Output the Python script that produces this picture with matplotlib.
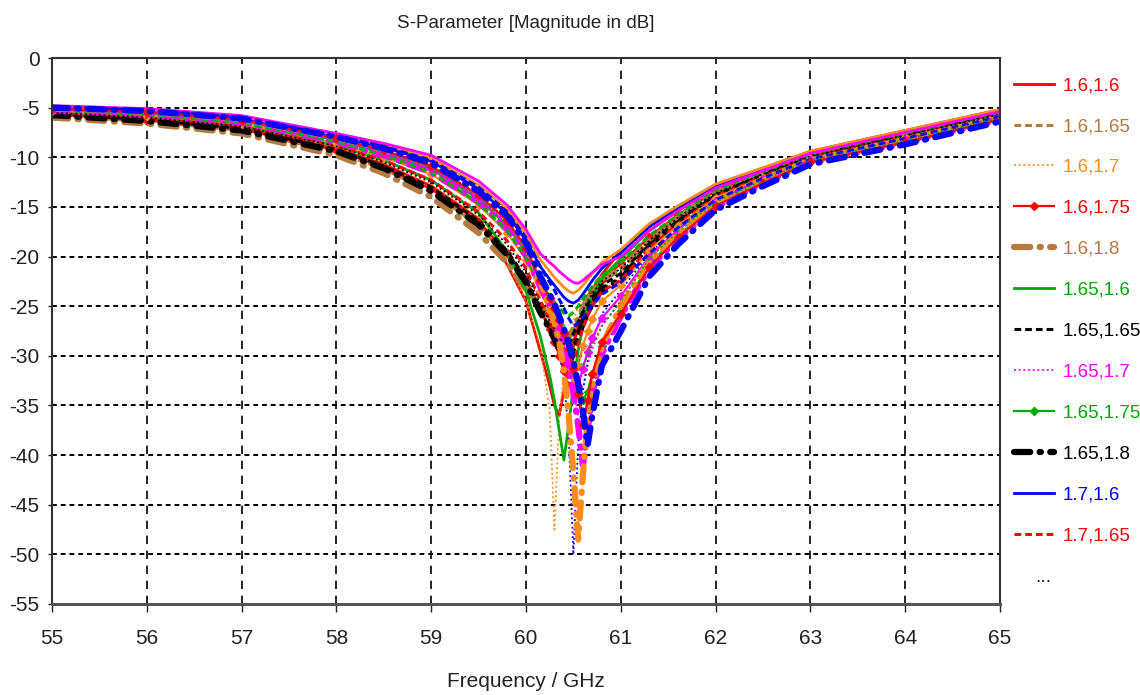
import matplotlib
matplotlib.use("Agg")
import matplotlib.pyplot as plt

plt.rcParams["font.family"] = ["Liberation Sans", "DejaVu Sans"]
plt.rcParams["axes.unicode_minus"] = False

# frequency grid (GHz) shared by all traces
freq = [55, 56, 57, 58, 58.5, 59, 59.5, 59.8, 60.0,
        60.15, 60.25, 60.3, 60.35, 60.4, 60.45, 60.5, 60.55, 60.6, 60.65, 60.7, 60.8,
        61.0, 61.3, 61.6, 62, 62.5, 63, 64, 65]

# S11 magnitude in dB, one list per parameter pair
s_16_16 = [-5.6, -6.1, -7.0, -9.1, -10.7, -12.9, -16.2, -20.8, -24.5, -29.5, -33.0, -35.0, -36.0, -33.5, -31.5, -29.0, -27.0, -25.5, -24.3, -23.3, -21.8, -19.4, -16.9, -15.0, -12.8, -11.1, -9.4, -7.3, -5.2]
s_16_165 = [-5.8, -6.4, -7.3, -9.5, -11.2, -13.5, -16.9, -19.9, -22.6, -25.0, -26.5, -27.2, -28.0, -28.6, -29.0, -28.0, -26.8, -25.6, -24.6, -23.8, -22.6, -21.0, -18.2, -16.0, -13.5, -11.6, -9.8, -7.7, -5.6]
s_16_17 = [-5.5, -6.0, -6.9, -9.0, -10.5, -12.7, -16.0, -20.5, -24.5, -29.0, -35.5, -47.5, -36.5, -31.5, -28.5, -26.5, -25.0, -23.9, -23.0, -22.3, -21.2, -19.8, -17.3, -15.3, -13.0, -11.3, -9.6, -7.5, -5.35]
s_16_175 = [-5.7, -6.3, -7.2, -9.3, -11.0, -13.2, -16.5, -19.6, -22.3, -25.3, -27.3, -28.6, -30.0, -31.5, -30.5, -28.6, -27.0, -25.7, -24.6, -23.7, -22.4, -20.7, -18.0, -15.8, -13.4, -11.5, -9.7, -7.6, -5.55]
s_16_18 = [-6.0, -6.6, -7.6, -9.8, -11.6, -14.0, -17.6, -20.6, -23.3, -25.0, -26.0, -26.6, -27.2, -27.6, -28.0, -27.4, -26.3, -25.2, -24.2, -23.4, -22.2, -21.3, -18.4, -16.1, -13.6, -11.7, -9.9, -7.8, -5.65]
s_165_16 = [-5.45, -5.9, -6.8, -8.8, -10.3, -12.3, -15.6, -19.5, -23.5, -28.0, -32.0, -34.5, -37.5, -40.5, -37.0, -33.0, -29.5, -27.0, -25.3, -24.0, -22.2, -20.2, -17.4, -15.4, -13.0, -11.3, -9.6, -7.5, -5.35]
s_165_165 = [-5.6, -6.2, -7.1, -9.2, -10.9, -13.0, -16.4, -19.4, -22.2, -25.4, -27.2, -28.3, -29.3, -30.0, -29.0, -27.8, -26.6, -25.6, -24.8, -24.1, -22.9, -21.7, -18.7, -16.4, -13.8, -11.8, -10.0, -7.9, -5.7]
s_165_17 = [-5.15, -5.5, -6.3, -8.2, -9.5, -11.0, -14.0, -16.6, -19.3, -22.6, -24.6, -25.8, -27.2, -28.8, -30.8, -33.3, -36.0, -33.5, -31.0, -29.3, -27.0, -24.5, -20.2, -17.5, -14.5, -12.3, -10.3, -8.3, -6.0]
s_165_175 = [-5.2, -5.6, -6.35, -8.3, -9.6, -11.2, -14.2, -16.9, -19.6, -22.8, -24.6, -25.6, -26.8, -28.0, -29.5, -31.2, -33.0, -34.5, -33.6, -31.8, -29.0, -25.5, -20.8, -17.9, -14.8, -12.5, -10.4, -8.4, -6.1]
s_165_18 = [-5.75, -6.35, -7.3, -9.4, -11.1, -13.4, -16.8, -19.8, -22.6, -25.6, -27.3, -28.3, -29.3, -30.4, -31.0, -29.6, -28.0, -26.7, -25.6, -24.7, -23.3, -22.3, -19.0, -16.7, -14.0, -11.9, -10.0, -7.95, -5.75]
s_17_16 = [-4.95, -5.3, -6.05, -7.9, -9.0, -10.4, -13.2, -15.7, -18.4, -21.0, -22.3, -22.9, -23.5, -24.1, -24.5, -24.7, -24.4, -23.8, -23.1, -22.4, -21.2, -19.6, -17.0, -15.1, -12.9, -11.2, -9.5, -7.4, -5.3]
s_17_165 = [-5.45, -5.95, -6.8, -8.8, -10.3, -12.3, -15.5, -18.4, -21.2, -24.4, -26.4, -27.6, -29.0, -30.8, -33.0, -31.0, -28.8, -27.2, -26.0, -25.0, -23.5, -22.4, -19.1, -16.7, -14.0, -11.9, -10.0, -7.95, -5.75]
s_17_17 = [-5.1, -5.45, -6.2, -8.1, -9.3, -10.8, -13.7, -16.3, -19.0, -23.0, -25.5, -27.2, -29.5, -32.5, -38.0, -50.0, -39.0, -33.5, -30.5, -28.5, -25.8, -23.4, -19.7, -17.1, -14.3, -12.1, -10.2, -8.1, -5.9]
s_17_175 = [-5.35, -5.8, -6.6, -8.6, -10.0, -11.7, -14.8, -17.6, -20.3, -23.5, -25.5, -26.6, -27.9, -29.4, -31.0, -33.0, -31.0, -29.0, -27.5, -26.3, -24.5, -22.9, -19.4, -16.9, -14.1, -12.0, -10.1, -8.0, -5.8]
s_17_18 = [-5.25, -5.7, -6.5, -8.45, -9.8, -11.5, -14.5, -17.2, -19.9, -23.0, -25.0, -26.2, -27.6, -29.2, -31.2, -33.8, -37.0, -41.0, -37.5, -33.8, -29.8, -26.0, -21.2, -18.2, -15.0, -12.6, -10.5, -8.5, -6.2]
s_175_16 = [-4.9, -5.2, -5.9, -7.75, -8.8, -10.1, -12.8, -15.2, -17.8, -20.3, -21.5, -22.1, -22.6, -23.1, -23.5, -23.7, -23.4, -22.9, -22.3, -21.7, -20.6, -19.3, -16.7, -14.9, -12.7, -11.05, -9.4, -7.3, -5.2]
s_175_165 = [-5.25, -5.7, -6.5, -8.45, -9.8, -11.5, -14.6, -17.4, -20.1, -22.7, -24.0, -24.6, -25.2, -25.7, -26.0, -25.6, -25.0, -24.3, -23.6, -23.0, -21.9, -20.6, -17.9, -15.8, -13.3, -11.5, -9.7, -7.6, -5.5]
s_175_17 = [-5.5, -6.0, -6.9, -8.9, -10.5, -12.5, -15.8, -18.8, -21.6, -24.8, -26.5, -27.3, -28.1, -28.8, -28.6, -27.6, -26.5, -25.4, -24.5, -23.7, -22.5, -21.2, -18.4, -16.1, -13.6, -11.7, -9.9, -7.8, -5.65]
s_175_175 = [-5.15, -5.55, -6.3, -8.2, -9.5, -11.1, -14.1, -16.8, -19.5, -22.6, -24.4, -25.4, -26.6, -27.9, -29.5, -31.2, -33.0, -31.3, -29.6, -28.2, -26.2, -24.0, -20.0, -17.3, -14.4, -12.2, -10.3, -8.2, -5.95]
s_175_18 = [-5.05, -5.4, -6.15, -8.0, -9.2, -10.7, -13.5, -16.1, -18.8, -22.5, -25.0, -26.6, -28.6, -31.5, -36.0, -41.8, -48.5, -42.0, -36.5, -33.0, -29.0, -25.0, -20.5, -17.7, -14.6, -12.4, -10.4, -8.35, -6.05]
s_18_16 = [-4.8, -5.1, -5.8, -7.6, -8.6, -9.8, -12.4, -14.8, -17.3, -19.7, -20.6, -21.0, -21.5, -21.9, -22.3, -22.6, -22.7, -22.4, -22.0, -21.6, -20.8, -20.0, -17.4, -15.4, -13.1, -11.35, -9.6, -7.5, -5.4]
s_18_165 = [-4.95, -5.25, -6.0, -7.85, -8.9, -10.3, -13.0, -15.5, -18.1, -21.0, -22.6, -23.4, -24.3, -25.2, -26.2, -27.0, -26.7, -26.1, -25.5, -24.9, -23.8, -22.6, -19.7, -17.1, -14.3, -12.1, -10.2, -8.1, -5.9]
s_18_17 = [-5.15, -5.55, -6.3, -8.2, -9.5, -11.1, -14.1, -16.8, -19.5, -22.5, -24.0, -24.9, -25.8, -26.8, -27.9, -29.0, -30.2, -31.0, -30.0, -28.8, -27.0, -24.5, -20.2, -17.5, -14.5, -12.3, -10.3, -8.3, -6.0]
s_18_175 = [-5.1, -5.45, -6.2, -8.1, -9.3, -10.9, -13.8, -16.4, -19.1, -22.4, -24.2, -25.2, -26.4, -27.7, -29.3, -31.3, -33.8, -37.0, -34.5, -31.8, -28.6, -25.8, -21.1, -18.1, -14.9, -12.6, -10.5, -8.5, -6.2]
s_18_18 = [-5.0, -5.35, -6.1, -7.95, -9.1, -10.6, -13.4, -15.9, -18.6, -22.0, -23.8, -24.8, -26.0, -27.3, -28.8, -30.6, -32.8, -35.5, -39.0, -36.0, -31.0, -27.5, -22.0, -18.8, -15.3, -12.9, -10.7, -8.7, -6.4]

traces = [s_16_16, s_16_165, s_16_17, s_16_175, s_16_18,
          s_165_16, s_165_165, s_165_17, s_165_175, s_165_18,
          s_17_16, s_17_165, s_17_17, s_17_175, s_17_18,
          s_175_16, s_175_165, s_175_17, s_175_175, s_175_18,
          s_18_16, s_18_165, s_18_17, s_18_175, s_18_18]
labels = ["1.6,1.6", "1.6,1.65", "1.6,1.7", "1.6,1.75", "1.6,1.8",
          "1.65,1.6", "1.65,1.65", "1.65,1.7", "1.65,1.75", "1.65,1.8",
          "1.7,1.6", "1.7,1.65", "1.7,1.7", "1.7,1.75", "1.7,1.8",
          "1.75,1.6", "1.75,1.65", "1.75,1.7", "1.75,1.75", "1.75,1.8",
          "1.8,1.6", "1.8,1.65", "1.8,1.7", "1.8,1.75", "1.8,1.8"]

RED, BROWN, ORANGE = "#ff0000", "#b47a3e", "#ff8c1a"
GREEN, BLACK, MAGENTA, BLUE = "#00aa00", "#000000", "#ff00ff", "#0000ff"
colors = [RED, BROWN, ORANGE, RED, BROWN,
          GREEN, BLACK, MAGENTA, GREEN, BLACK,
          BLUE, RED, BLUE, ORANGE, MAGENTA,
          ORANGE, GREEN, BLACK, MAGENTA, ORANGE,
          MAGENTA, BLUE, GREEN, RED, BLUE]
kinds = ["solid", "dash", "dot", "marker", "thick"] * 5


def style(kind):
    if kind == "solid":
        return dict(lw=2.0, ls="-")
    if kind == "dash":
        return dict(lw=2.2, dashes=(2.2, 1.3))
    if kind == "dot":
        return dict(lw=1.3, dashes=(1.0, 1.6))
    if kind == "marker":
        return dict(lw=1.6, ls="-", marker="D", ms=4.5)
    return dict(lw=4.5, dashes=(2.6, 1.5, 0.2, 1.5), dash_capstyle="round")


fig = plt.figure(figsize=(11.4, 6.95), dpi=100)
ax = fig.add_axes([52 / 1140, 1 - 604 / 695, 948 / 1140, 546 / 695])

lines = []
for y, c, k, lab in zip(traces, colors, kinds, labels):
    (ln,) = ax.plot(freq, y, color=c, label=lab, **style(k))
    lines.append(ln)

ax.set_xlim(55, 65)
ax.set_ylim(-55, 0)
ax.set_xticks(range(55, 66))
ax.set_yticks(range(-55, 1, 5))
ax.tick_params(direction="out", width=1, labelsize=15, colors="#222222")
ax.tick_params(axis="x", length=6, pad=12)
ax.tick_params(axis="y", length=3, pad=6)
ax.xaxis.grid(True, color="black", lw=1.2, dashes=(5, 4))
ax.yaxis.grid(True, color="black", lw=1.4, dashes=(2.5, 2))
ax.set_axisbelow(True)
for name, sp in ax.spines.items():
    sp.set_color("#333333")
    sp.set_linewidth(1.5)
ax.spines["bottom"].set_color("#555555")
ax.spines["bottom"].set_linewidth(2.2)

ax.set_xlabel("Frequency / GHz", fontsize=15, color="#222222", labelpad=17)
fig.text(526 / 1140, 1 - 23 / 695, "S-Parameter [Magnitude in dB]", fontsize=13.5,
         color="#222222", ha="center", va="center")

leg = ax.legend(handles=lines[:12], loc="upper left",
                bbox_to_anchor=(1014 / 1140, 1 - 77 / 695),
                bbox_transform=fig.transFigure, frameon=False, fontsize=13.5,
                handlelength=2.15, handletextpad=0.45, labelspacing=1.27,
                labelcolor="linecolor", borderaxespad=0, borderpad=0)
fig.text(1043 / 1140, 1 - 578 / 695, "...", fontsize=14, color="#222222",
         ha="center", va="center")

fig.savefig("out.png", dpi=100)
